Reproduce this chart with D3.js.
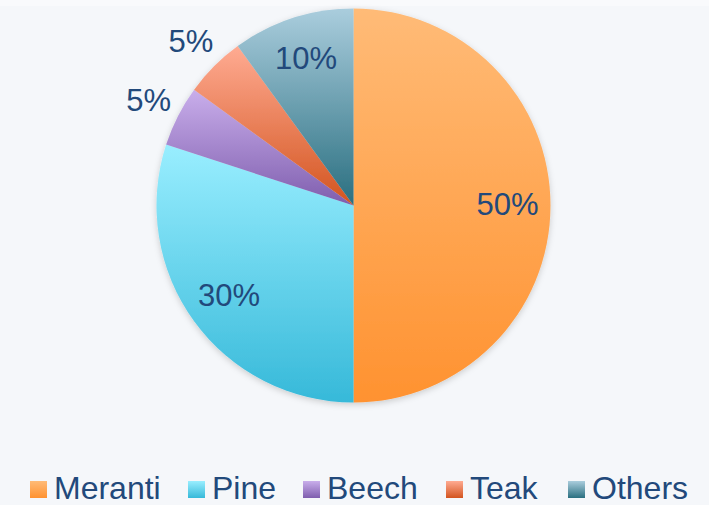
<!DOCTYPE html>
<html>
  <head>
    <meta charset="utf-8">
    <title>Wood share pie</title>
    <style>
      body {
        margin: 0px;
        overflow: hidden;
        background: #F5F7FA;
      }

      .label, .legend-text {
        font-family: "Liberation Sans", Arial, sans-serif;
        fill: #22497B;
      }
      .label { font-size: 31px; }
      .legend-text { font-size: 32px; }
    </style>
  </head>
  <body>
    <svg id="container" width="709" height="505"></svg>
    <script src="https://cdn.jsdelivr.net/npm/d3@7/dist/d3.min.js"></script>
    <script type="text/javascript">
      var categories = ['Meranti', 'Pine', 'Beech', 'Teak', 'Others'];
      var shares = [50, 30, 5, 5, 10];
      var labels = ['50%', '30%', '5%', '5%', '10%'];
      var topColors = ['#FFBB77', '#99EEFF', '#C9AEEB', '#FFAB92', '#AACDDD'];
      var bottomColors = ['#FF9230', '#36B9D9', '#7F5EAE', '#D3541F', '#2A6F80'];

      var width = 709,
        height = 505,
        cx = 353.5,
        cy = 205.5,
        radius = 197;

      var svg = d3.select('#container');

      svg.append('rect')
        .attr('width', width)
        .attr('height', height)
        .attr('fill', '#F5F7FA');

      // faint top rule
      svg.append('rect')
        .attr('width', width)
        .attr('height', 6)
        .attr('fill', '#F9FAFC');

      var defs = svg.append('defs');

      categories.forEach(function(c, i) {
        var g = defs.append('linearGradient')
          .attr('id', 'grad' + i)
          .attr('x1', 0).attr('y1', 0)
          .attr('x2', 0).attr('y2', 1);
        g.append('stop').attr('offset', '0%').attr('stop-color', topColors[i]);
        g.append('stop').attr('offset', '100%').attr('stop-color', bottomColors[i]);
      });

      var shadow = defs.append('filter')
        .attr('id', 'shadow')
        .attr('x', '-10%').attr('y', '-10%')
        .attr('width', '120%').attr('height', '120%');
      shadow.append('feDropShadow')
        .attr('dx', 0).attr('dy', 2)
        .attr('stdDeviation', 3)
        .attr('flood-color', '#000')
        .attr('flood-opacity', 0.18);

      var pie = d3.pie().sort(null).value(function(d) { return d; });
      var arcs = pie(shares);

      var arc = d3.arc().innerRadius(0).outerRadius(radius);
      var insideArc = d3.arc().innerRadius(154).outerRadius(154);
      var outsideArc = d3.arc().innerRadius(230).outerRadius(230);

      var chart = svg.append('g')
        .attr('transform', 'translate(' + cx + ',' + cy + ')');

      chart.append('g')
        .attr('filter', 'url(#shadow)')
        .selectAll('path')
        .data(arcs)
        .enter()
        .append('path')
        .attr('d', arc)
        .attr('fill', function(d, i) { return 'url(#grad' + i + ')'; });

      chart.selectAll('text.label')
        .data(arcs)
        .enter()
        .append('text')
        .attr('class', 'label')
        .attr('text-anchor', 'middle')
        .attr('dominant-baseline', 'central')
        .attr('transform', function(d) {
          var a = d.data >= 10 ? insideArc : outsideArc;
          var p = a.centroid(d);
          return 'translate(' + p[0] + ',' + (p[1] - 1) + ')';
        })
        .text(function(d, i) { return labels[i]; });

      /*
        Legend
      */
      var legendX = [30, 188, 303, 446, 568];
      var legend = svg.append('g');

      var item = legend.selectAll('g')
        .data(categories)
        .enter()
        .append('g')
        .attr('transform', function(d, i) { return 'translate(' + legendX[i] + ',481)'; });

      item.append('rect')
        .attr('width', 17)
        .attr('height', 17)
        .attr('fill', function(d, i) { return 'url(#grad' + i + ')'; });

      item.append('text')
        .attr('class', 'legend-text')
        .attr('x', 24)
        .attr('y', 18)
        .text(function(d) { return d; });
    </script>
  </body>
</html>
